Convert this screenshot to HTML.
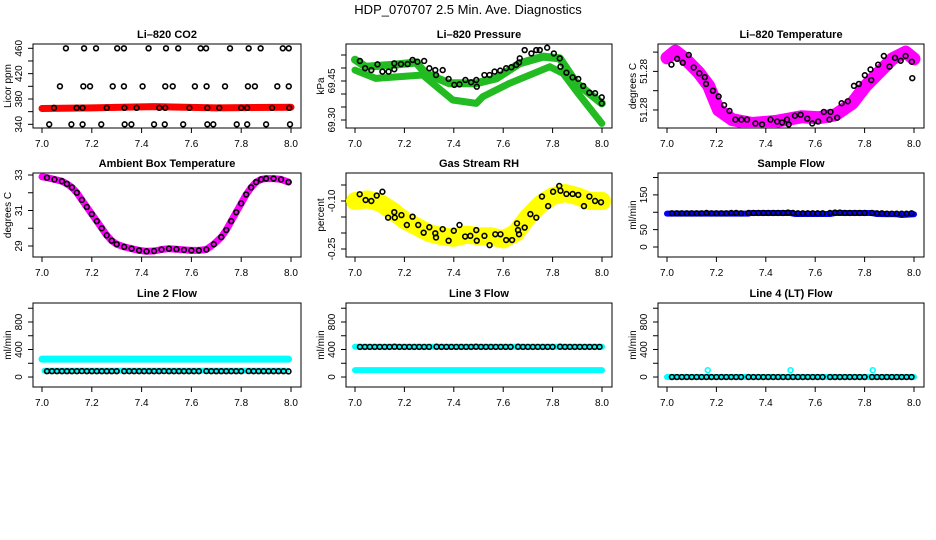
<!DOCTYPE html>
<html><head><meta charset="utf-8">
<style>
html,body{margin:0;padding:0;background:#fff;}
svg{display:block;font-family:"Liberation Sans",Arial,sans-serif;}
</style></head>
<body>
<svg id="chart" width="936" height="540" viewBox="0 0 936 540" xmlns="http://www.w3.org/2000/svg">
<rect x="0" y="0" width="936" height="540" fill="#fff"/>
<text x="468" y="14" text-anchor="middle" font-size="13">HDP_070707  2.5 Min. Ave. Diagnostics</text>
</svg>
<script>
// ---------- data ----------
const xTicks = [7.0, 7.2, 7.4, 7.6, 7.8, 8.0];
const xTickLabels = ["7.0","7.2","7.4","7.6","7.8","8.0"];

// CO2
const co2BandHours = [7.0, 7.2, 7.45, 7.7, 8.0];
const co2BandValues = [365, 366, 368, 366, 367];
const co2BlackHours = [7.096,7.169,7.217,7.302,7.329,7.428,7.498,7.547,7.637,7.659,7.755,7.830,7.878,7.967,7.991,
 7.072,7.166,7.193,7.284,7.329,7.404,7.495,7.525,7.614,7.661,7.735,7.827,7.855,7.945,7.991,
 7.048,7.139,7.163,7.260,7.331,7.380,7.471,7.495,7.592,7.664,7.712,7.800,7.824,7.924,7.993,
 7.029,7.118,7.163,7.238,7.332,7.359,7.450,7.493,7.567,7.664,7.688,7.782,7.824,7.900,7.996];
const co2BlackValues = [460,460,460,460,460,460,460,460,460,460,460,460,460,460,460,
 400,400,400,400,400,400,400,400,400,400,400,400,400,400,400,
 366,366,366,366,366,366,366,366,366,366,366,366,366,366,366,
 340,340,340,340,340,340,340,340,340,340,340,340,340,340,340];

// Pressure
const presUpperHours = [7.0,7.043,7.152,7.247,7.287,7.382,7.491,7.572,7.667,7.762,7.829,7.897,7.999];
const presUpperValues = [69.532,69.505,69.512,69.521,69.479,69.441,69.441,69.460,69.518,69.544,69.537,69.441,69.364];
const presLowerHours = [7.0,7.084,7.274,7.314,7.396,7.491,7.518,7.626,7.789,7.843,7.897,7.999];
const presLowerValues = [69.492,69.460,69.473,69.441,69.377,69.364,69.390,69.441,69.505,69.479,69.410,69.287];
const presBlackHours = [7.02,7.041,7.066,7.091,7.111,7.136,7.159,7.159,7.186,7.213,7.233,7.253,7.280,7.301,7.325,7.328,7.355,7.379,7.402,7.423,7.447,7.470,7.491,7.493,7.524,7.545,7.565,7.588,7.612,7.633,7.653,7.664,7.667,7.687,7.714,7.734,7.748,7.778,7.805,7.829,7.832,7.856,7.881,7.904,7.924,7.949,7.972,7.999,7.999];
const presBlackValues = [69.527,69.499,69.492,69.514,69.486,69.486,69.518,69.495,69.515,69.515,69.531,69.524,69.527,69.499,69.492,69.473,69.492,69.458,69.435,69.437,69.454,69.445,69.454,69.428,69.473,69.473,69.486,69.490,69.499,69.503,69.512,69.521,69.537,69.569,69.556,69.569,69.569,69.578,69.556,69.537,69.505,69.482,69.464,69.458,69.431,69.405,69.403,69.387,69.364];

// Li-820 temperature
const tempBandHours = [7.0,7.034,7.074,7.128,7.169,7.209,7.264,7.345,7.439,7.547,7.615,7.682,7.750,7.804,7.858,7.912,7.966,8.0];
const tempBandValues = [51.2814,51.2821,51.2813,51.2799,51.2785,51.2760,51.2750,51.2746,51.2748,51.2753,51.2752,51.2755,51.2767,51.2785,51.2799,51.2813,51.2820,51.2813];
const tempBlackHours = [7.018,7.041,7.064,7.088,7.108,7.131,7.153,7.158,7.186,7.209,7.231,7.253,7.277,7.301,7.324,7.358,7.385,7.419,7.446,7.466,7.486,7.493,7.518,7.541,7.568,7.588,7.612,7.635,7.658,7.662,7.689,7.707,7.732,7.757,7.777,7.801,7.824,7.827,7.855,7.878,7.901,7.923,7.946,7.966,7.991,7.993];
const tempBlackValues = [51.2807,51.2813,51.2809,51.2817,51.2804,51.2798,51.2794,51.2787,51.2780,51.2774,51.2765,51.2759,51.2750,51.2750,51.2750,51.2746,51.2745,51.2750,51.2748,51.2747,51.2750,51.2745,51.2754,51.2755,51.2751,51.2746,51.2748,51.2758,51.2750,51.2758,51.2752,51.2767,51.2769,51.2785,51.2787,51.2796,51.2802,51.2791,51.2807,51.2816,51.2805,51.2814,51.2811,51.2816,51.2810,51.2793];

// Ambient box temperature
const ambHours = [7.0,7.02,7.05,7.08,7.1,7.12,7.14,7.16,7.18,7.2,7.22,7.24,7.26,7.28,7.3,7.33,7.36,7.39,7.42,7.45,7.48,7.51,7.54,7.57,7.6,7.63,7.66,7.69,7.72,7.74,7.76,7.78,7.8,7.82,7.84,7.86,7.88,7.9,7.93,7.96,7.99];
const ambValues = [32.9,32.85,32.75,32.65,32.5,32.3,32.0,31.6,31.2,30.8,30.4,30.0,29.6,29.3,29.1,28.95,28.85,28.75,28.7,28.72,28.8,28.85,28.82,28.78,28.75,28.75,28.8,29.1,29.5,29.9,30.4,30.9,31.4,31.9,32.3,32.6,32.75,32.8,32.8,32.75,32.6];

// Gas stream RH
const rhBandHours = [7.0,7.05,7.1,7.15,7.2,7.25,7.3,7.35,7.4,7.45,7.5,7.55,7.6,7.65,7.7,7.75,7.8,7.85,7.9,7.95,8.0];
const rhBandValues = [-0.10,-0.095,-0.105,-0.13,-0.16,-0.18,-0.20,-0.21,-0.215,-0.205,-0.21,-0.21,-0.22,-0.20,-0.15,-0.11,-0.085,-0.075,-0.085,-0.10,-0.10];
const rhBlackHours = [7.019,7.043,7.066,7.088,7.111,7.134,7.159,7.161,7.188,7.210,7.233,7.256,7.278,7.301,7.325,7.328,7.355,7.379,7.400,7.423,7.446,7.467,7.491,7.493,7.524,7.545,7.568,7.589,7.612,7.636,7.656,7.660,7.664,7.687,7.710,7.734,7.757,7.782,7.802,7.827,7.832,7.856,7.881,7.904,7.927,7.949,7.972,7.996];
const rhBlackValues = [-0.079,-0.097,-0.100,-0.083,-0.071,-0.152,-0.135,-0.152,-0.144,-0.175,-0.149,-0.175,-0.199,-0.182,-0.201,-0.214,-0.188,-0.224,-0.193,-0.175,-0.211,-0.209,-0.191,-0.224,-0.209,-0.238,-0.204,-0.204,-0.222,-0.222,-0.170,-0.191,-0.204,-0.183,-0.141,-0.152,-0.086,-0.116,-0.071,-0.053,-0.068,-0.078,-0.078,-0.081,-0.116,-0.086,-0.100,-0.104];

// flows
const flowHours = [7.02,7.04,7.06,7.08,7.10,7.12,7.14,7.16,7.18,7.20,7.22,7.24,7.26,7.28,7.30,7.33,7.35,7.37,7.39,7.41,7.43,7.45,7.47,7.49,7.51,7.53,7.55,7.57,7.59,7.61,7.63,7.66,7.68,7.70,7.72,7.74,7.76,7.78,7.80,7.83,7.85,7.87,7.89,7.91,7.93,7.95,7.97,7.99];
const sampleBandHours = [7.0,7.33,7.34,7.5,7.52,7.66,7.68,7.83,7.85,7.93,7.95,8.0];
const sampleBandValues = [96,96,98,98,95,95,98,98,95,94,92,94];
const sampleBlackValues = [97,97,97,97,97,97,97,98,97,97,97,97,98,98,97,98,98,98,98,98,98,98,98,99,98,97,97,97,97,97,97,98,99,99,98,98,98,98,98,98,97,97,96,96,96,96,96,97];
const line2UpperHours = [7.0,7.99];
const line2UpperValues = [260,260];
const line2LowerHours = [7.01,7.98];
const line2LowerValues = [92,92];
const line2BlackValues = [85,85,85,85,85,85,85,86,85,85,85,85,85,85,85,85,85,85,85,85,85,85,85,86,85,85,85,85,85,85,85,86,85,85,85,85,85,85,85,86,85,85,85,85,85,85,85,82];
const line3UpperHours = [7.0,8.0];
const line3UpperValues = [440,440];
const line3LowerHours = [7.0,8.0];
const line3LowerValues = [100,100];
const line3BlackValues = [438,438,438,438,438,438,438,440,438,438,438,438,438,438,438,440,438,438,438,438,438,438,438,440,438,438,438,438,438,438,438,440,438,438,438,438,438,438,438,440,438,438,438,438,438,438,438,438];
const line4BandHours = [7.0,8.0];
const line4BandValues = [0,0];
const line4BlackValues = [0,0,0,0,0,0,0,0,0,0,0,0,0,0,0,0,0,0,0,0,0,0,0,0,0,0,0,0,0,0,0,0,0,0,0,0,0,0,0,0,0,0,0,0,0,0,0,0];
const line4CyanHours = [7.165,7.5,7.833];
const line4CyanValues = [100,100,100];

// ---------- drawing ----------
const svg = document.getElementById('chart');
const NS = 'http://www.w3.org/2000/svg';
function mk(tag, attrs, parent){
  const e = document.createElementNS(NS, tag);
  for (const k in attrs) e.setAttribute(k, attrs[k]);
  (parent||svg).appendChild(e);
  return e;
}
const cols = [[33,301],[346,612],[658,924]];
const rows = [[44,128],[173,257],[303,387]];

function panel(o){
  const [L,R] = cols[o.col], [T,B] = rows[o.row];
  const g = mk('g', {});
  
  
  const x0 = L + 9, x1 = R - 10;
  const sx = h => x0 + (h - 7.0) * (x1 - x0);
  const sy = v => B - (v - o.yMin) / (o.yMax - o.yMin) * (B - T);
  o.sx = sx; o.sy = sy; o.g = g;
  // title
  const t = mk('text', {x:(L+R)/2, y:T-6, 'text-anchor':'middle', 'font-size':'11', 'font-weight':'bold'}, g);
  t.textContent = o.title;
  
  
  // x axis
  const xa = mk('g', {}, g);
  
  
  mk('line', {x1:sx(7.0), x2:sx(8.0), y1:B, y2:B, stroke:'#000'}, xa);
  xTicks.forEach((v,i)=>{
    mk('line', {x1:sx(v), x2:sx(v), y1:B, y2:B+5, stroke:'#000'}, xa);
    const tl = mk('text', {x:sx(v), y:B+19, 'text-anchor':'middle', 'font-size':'10'}, xa);
    tl.textContent = xTickLabels[i];
    
    
  });
  // y axis
  const ya = mk('g', {}, g);
  
  
  mk('line', {x1:L, x2:L, y1:sy(o.yTicks[0]), y2:sy(o.yTicks[o.yTicks.length-1]), stroke:'#000'}, ya);
  o.yTicks.forEach((v,i)=>{
    mk('line', {x1:L-5, x2:L, y1:sy(v), y2:sy(v), stroke:'#000'}, ya);
    if (o.yShow[i]) {
      const yl = mk('text', {x:0, y:0, 'text-anchor':'middle', 'font-size':'10', transform:`translate(${L-11},${sy(v)}) rotate(-90)`}, ya);
      yl.textContent = o.yFmt(v);
      
      
    }
  });
  const yt = mk('text', {x:0, y:0, 'text-anchor':'middle', 'font-size':'10', transform:`translate(${L-22},${(T+B)/2}) rotate(-90)`}, g);
  yt.textContent = o.ylab;
  
  
  // box
  const bx = mk('rect', {x:L, y:T, width:R-L, height:B-T, fill:'none', stroke:'#000'}, g);
  
  
  // marks layer
  o.clipId = 'clip' + o.col + o.row;
  const cp = mk('clipPath', {id:o.clipId}, g);
  mk('rect', {x:L, y:T, width:R-L, height:B-T}, cp);
  o.marks = mk('g', {'clip-path':`url(#${o.clipId})`}, g);
  return o;
}
function band(o, hs, vs, color, w, name){
  const pts = hs.map((h,i)=>o.sx(h).toFixed(1)+','+o.sy(vs[i]).toFixed(1)).join(' ');
  const p = mk('polyline', {points:pts, fill:'none', stroke:color, 'stroke-width':w, 'stroke-linecap':'round', 'stroke-linejoin':'round'}, o.marks);
  
  
}
function pts(o, hs, vs, color, name){
  hs.forEach((h,i)=>{
    const c = mk('circle', {cx:o.sx(h), cy:o.sy(vs[i]), r:2.4, fill:'none', stroke:color, 'stroke-width':1.6}, o.marks);
    
    
  });
}
const fmt0 = v => String(v);

let p;
p = panel({name:'co2-panel', col:0,row:0,title:'Li\u2013820 CO2',ylab:'Licor ppm',yMin:334.2,yMax:466.8,
  yTicks:[340,360,380,400,420,440,460], yShow:[1,0,1,0,1,0,1], yFmt:fmt0});
band(p, co2BandHours, co2BandValues, '#ff0000', 7, 'co2-band');
pts(p, co2BlackHours, co2BlackValues, '#000', 'co2-point');

p = panel({name:'pressure-panel', col:1,row:0,title:'Li\u2013820 Pressure',ylab:'kPa',yMin:69.2692,yMax:69.5923,
  yTicks:[69.30,69.35,69.40,69.45,69.50,69.55], yShow:[1,0,0,1,0,0], yFmt:v=>v.toFixed(2)});
band(p, presUpperHours, presUpperValues, '#22bb22', 8, 'pressure-band-upper');
band(p, presLowerHours, presLowerValues, '#22bb22', 7, 'pressure-band-lower');
pts(p, presBlackHours, presBlackValues, '#000', 'pressure-point');

p = panel({name:'li820-temperature-panel', col:2,row:0,title:'Li\u2013820 Temperature',ylab:'degrees C',yMin:51.27413,yMax:51.28284,
  yTicks:[51.276,51.278,51.280,51.282], yShow:[1,0,1,0], yFmt:v=>v.toFixed(2)});
band(p, tempBandHours, tempBandValues, '#ff00ff', 13, 'temperature-band');
pts(p, tempBlackHours, tempBlackValues, '#000', 'temperature-point');

p = panel({name:'ambient-panel', col:0,row:1,title:'Ambient Box Temperature',ylab:'degrees C',yMin:28.38,yMax:33.113,
  yTicks:[29,30,31,32,33], yShow:[1,0,1,0,1], yFmt:fmt0});
band(p, ambHours, ambValues, '#ff00ff', 7, 'ambient-band');
pts(p, ambHours.slice(1), ambValues.slice(1), '#000', 'ambient-point');

p = panel({name:'rh-panel', col:1,row:1,title:'Gas Stream RH',ylab:'percent',yMin:-0.275,yMax:-0.0125,
  yTicks:[-0.25,-0.20,-0.15,-0.10,-0.05], yShow:[1,0,0,1,0], yFmt:v=>v.toFixed(2)});
band(p, rhBandHours, rhBandValues, '#ffff00', 18, 'rh-band');
pts(p, rhBlackHours, rhBlackValues, '#000', 'rh-point');

p = panel({name:'sample-flow-panel', col:2,row:1,title:'Sample Flow',ylab:'ml/min',yMin:-28.8,yMax:213,
  yTicks:[0,50,100,150,200], yShow:[1,1,0,1,0], yFmt:fmt0});
band(p, sampleBandHours, sampleBandValues, '#0000ff', 6, 'sample-flow-band');
pts(p, flowHours, sampleBlackValues, '#000', 'sample-flow-point');

const flowTicks = [0,200,400,600,800,1000], flowShow = [1,0,1,0,1,0];
p = panel({name:'line2-panel', col:0,row:2,title:'Line 2 Flow',ylab:'ml/min',yMin:-145,yMax:1076,
  yTicks:flowTicks, yShow:flowShow, yFmt:fmt0});
band(p, line2UpperHours, line2UpperValues, '#00ffff', 7, 'line2-upper-band');
band(p, line2LowerHours, line2LowerValues, '#00ffff', 6, 'line2-lower-band');
pts(p, flowHours, line2BlackValues, '#000', 'line2-point');

p = panel({name:'line3-panel', col:1,row:2,title:'Line 3 Flow',ylab:'ml/min',yMin:-145,yMax:1076,
  yTicks:flowTicks, yShow:flowShow, yFmt:fmt0});
band(p, line3UpperHours, line3UpperValues, '#00ffff', 6, 'line3-upper-band');
band(p, line3LowerHours, line3LowerValues, '#00ffff', 6, 'line3-lower-band');
pts(p, flowHours, line3BlackValues, '#000', 'line3-point');

p = panel({name:'line4-panel', col:2,row:2,title:'Line 4 (LT) Flow',ylab:'ml/min',yMin:-145,yMax:1076,
  yTicks:flowTicks, yShow:flowShow, yFmt:fmt0});
band(p, line4BandHours, line4BandValues, '#00ffff', 6, 'line4-band');
pts(p, flowHours, line4BlackValues, '#000', 'line4-point');
pts(p, line4CyanHours, line4CyanValues, '#00ffff', 'line4-cyan-point');
</script>
</body></html>
